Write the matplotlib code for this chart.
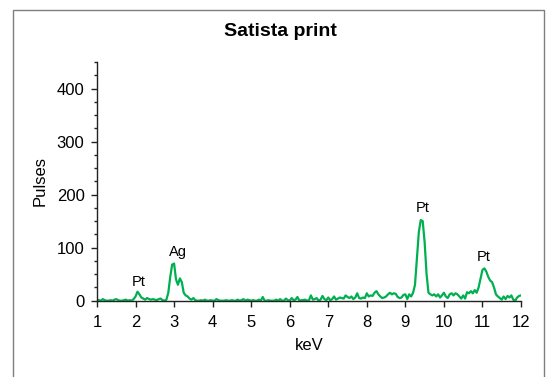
import matplotlib
matplotlib.use("Agg")
import matplotlib.pyplot as plt
from matplotlib.patches import Rectangle
from matplotlib.ticker import MultipleLocator
import numpy as np

plt.rcParams['font.family'] = ['Liberation Sans', 'DejaVu Sans']

# energy (keV) and pulses, step 0.05 keV
kev_start, kev_step = 1.0, 0.05
pulses = [
    # 1.00 - 1.95
    2, 1, 0, 3, 1, 0, 0, 1, 0, 2, 3, 1, 0, 0, 1, 2, 0, 1, 0, 3,
    # 2.00 - 2.95
    8, 17, 12, 6, 4, 2, 5, 3, 2, 3, 2, 1, 3, 4, 1, 0, 2, 15, 45, 68,
    # 3.00 - 3.95
    70, 40, 30, 42, 35, 15, 10, 8, 4, 2, 5, 1, 0, 0, 1, 0, 2, 0, 0, 1,
    # 4.00 - 4.95
    0, 0, 3, 1, 0, 0, 0, 1, 0, 0, 1, 0, 0, 2, 0, 1, 3, 0, 2, 1,
    # 5.00 - 5.95
    0, 1, 0, 0, 2, 0, 7, 0, 0, 1, 0, 0, 0, 2, 0, 3, 0, 0, 4, 1,
    # 6.00 - 6.95
    0, 5, 1, 2, 7, 0, 1, 1, 2, 0, 1, 10, 2, 3, 5, 0, 2, 9, 3, 1,
    # 7.00 - 7.95
    6, 1, 3, 8, 2, 4, 6, 5, 4, 10, 7, 5, 8, 3, 6, 14, 5, 4, 6, 5,
    # 8.00 - 8.95
    14, 8, 10, 9, 15, 18, 12, 8, 5, 6, 8, 12, 15, 12, 14, 13, 7, 5, 6, 11,
    # 9.00 - 9.95
    12, 3, 12, 8, 15, 30, 80, 130, 152, 150, 110, 50, 15, 12, 10, 12, 8, 12, 6, 10,
    # 10.00 - 10.95
    15, 8, 5, 12, 14, 10, 14, 12, 8, 4, 10, 4, 16, 14, 18, 14, 20, 15, 25, 42,
    # 11.00 - 12.00
    58, 61, 55, 45, 38, 35, 25, 12, 8, 5, 2, 8, 3, 9, 6, 10, 2, 0, 6, 9, 10,
]
kev = [kev_start + i * kev_step for i in range(len(pulses))]

peak_labels = ["Pt", "Ag", "Pt", "Pt"]
peak_x = [2.07, 3.09, 9.44, 11.04]
peak_y = [35, 92, 174, 82]

fig = plt.figure(figsize=(5.46, 3.77), dpi=100)
ax = fig.add_axes([97 / 546, 1 - 300.7 / 377, (521 - 97) / 546, (300.7 - 62) / 377])

ax.plot(kev, pulses, color='#00b050', lw=1.6, solid_joinstyle='round')

ax.set_xlim(1, 12)
ax.set_ylim(0, 450)
ax.xaxis.set_major_locator(MultipleLocator(1))
ax.yaxis.set_major_locator(MultipleLocator(100))
ax.yaxis.set_minor_locator(MultipleLocator(25))
ax.spines['top'].set_visible(False)
ax.spines['right'].set_visible(False)
for s in ['left', 'bottom']:
    ax.spines[s].set_color('#222222')
    ax.spines[s].set_linewidth(1.0)
ax.tick_params(axis='both', which='major', direction='out', length=4, width=1,
               labelsize=12, colors='#222222', labelcolor='black', pad=5)
ax.tick_params(axis='x', which='major', pad=6.5)
ax.tick_params(axis='y', which='minor', direction='out', length=2.5, width=1, colors='#222222')

ax.set_xlabel('keV', fontsize=12)
ax.set_ylabel('Pulses', fontsize=12)
ax.xaxis.set_label_coords(0.5, -(345 - 300.7) / (300.7 - 62), transform=ax.transAxes)
ax.yaxis.set_label_coords(-(97 - 40) / (521 - 97), 0.5, transform=ax.transAxes)
ax.xaxis.label.set_va('center')
ax.yaxis.label.set_va('center')

for lab, x, y in zip(peak_labels, peak_x, peak_y):
    ax.text(x, y, lab, ha='center', va='center', fontsize=10.5)

fig.text(0.513, 1 - 32 / 377, 'Satista print', ha='center', va='center',
         fontsize=14, fontweight='bold')

fig.patches.append(Rectangle((13 / 546, -0.2), (544 - 13) / 546, 1 + 0.2 - 10 / 377,
                             transform=fig.transFigure, fill=False,
                             edgecolor='#7f7f7f', lw=1.0, clip_on=False))

fig.savefig('out.png', dpi=100)
